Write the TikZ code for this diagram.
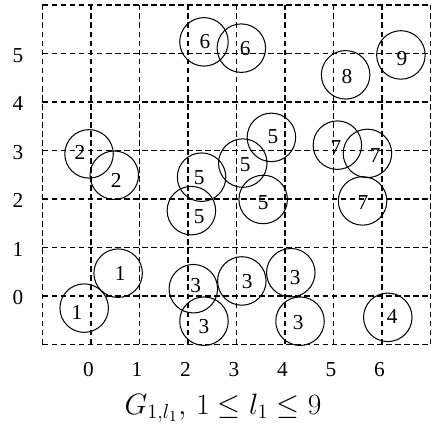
\documentclass[tikz,border=0pt]{standalone}
\usepackage{fontspec}
\setmainfont{Liberation Serif}
\begin{document}
\begin{tikzpicture}[x=1cm,y=1cm,
  gridline/.style={line width=0.8pt,dash pattern=on 3.4pt off 1.9pt},
  disk/.style={circle,draw,line width=0.6pt,minimum size=1cm,inner sep=0pt},
  lbl/.style={inner sep=0pt,font=\fontsize{12.5}{14}\selectfont},
  tick/.style={inner sep=0pt,font=\fontsize{12.5}{14}\selectfont}]
\useasboundingbox (-1.876,-2.845) rectangle (7.093,6.103);
\draw[gridline] (-1,-1) grid (7,6);
% axis labels
\foreach \i in {0,...,6} \node[tick] (xt\i) at (\i-0.05,-1.52) {\i};
\foreach \j in {0,...,5} \node[tick] (yt\j) at (-1.505,\j-0.04) {\j};
% circles
\node[disk] (cA) at (-0.04,2.93) {}; \node[lbl] (lA) at (-0.23,2.95) {2};
\node[disk] (cB) at (0.48,2.49) {};  \node[lbl] (lB) at (0.52,2.39) {2};
\node[disk] (cC) at (2.33,5.24) {};  \node[lbl] (lC) at (2.35,5.24) {6};
\node[disk] (cD) at (3.10,5.11) {};  \node[lbl] (lD) at (3.18,5.11) {6};
\node[disk] (cE) at (5.25,4.56) {};  \node[lbl] (lE) at (5.28,4.52) {8};
\node[disk] (cF) at (6.39,4.97) {};  \node[lbl] (lF) at (6.41,4.89) {9};
\node[disk] (cG) at (3.72,3.27) {};  \node[lbl] (lG) at (3.75,3.28) {5};
\node[disk] (cH) at (3.13,2.74) {};  \node[lbl] (lH) at (3.18,2.70) {5};
\node[disk] (cI) at (3.55,1.99) {};  \node[lbl] (lI) at (3.55,1.92) {5};
\node[disk] (cJ) at (2.28,2.45) {};  \node[lbl] (lJ) at (2.23,2.45) {5};
\node[disk] (cK) at (2.07,1.76) {};  \node[lbl] (lK) at (2.23,1.63) {5};
\node[disk] (cL) at (5.08,3.11) {};  \node[lbl] (lL) at (5.05,3.07) {7};
\node[disk] (cM) at (5.70,2.94) {};  \node[lbl] (lM) at (5.86,2.89) {7};
\node[disk] (cN) at (5.60,1.96) {};  \node[lbl] (lN) at (5.61,1.92) {7};
\node[disk] (cO) at (0.56,0.47) {};  \node[lbl] (lO) at (0.60,0.47) {1};
\node[disk] (cP) at (-0.14,-0.25) {};\node[lbl] (lP) at (-0.29,-0.33) {1};
\node[disk] (cQ) at (2.11,0.15) {};  \node[lbl] (lQ) at (2.16,0.21) {3};
\node[disk] (cR) at (2.33,-0.52) {}; \node[lbl] (lR) at (2.33,-0.64) {3};
\node[disk] (cS) at (3.11,0.31) {};  \node[lbl] (lS) at (3.22,0.29) {3};
\node[disk] (cT) at (4.12,0.48) {};  \node[lbl] (lT) at (4.21,0.39) {3};
\node[disk] (cU) at (4.31,-0.52) {}; \node[lbl] (lU) at (4.27,-0.54) {3};
\node[disk] (cV) at (6.12,-0.44) {}; \node[lbl] (lV) at (6.21,-0.43) {4};
% caption
\node[inner sep=0pt,font=\fontsize{18.3}{22}\selectfont] (cap) at (2.72,-2.31) {$G_{1,l_1},\,1\le l_1\le 9$};
\end{tikzpicture}
\end{document}
